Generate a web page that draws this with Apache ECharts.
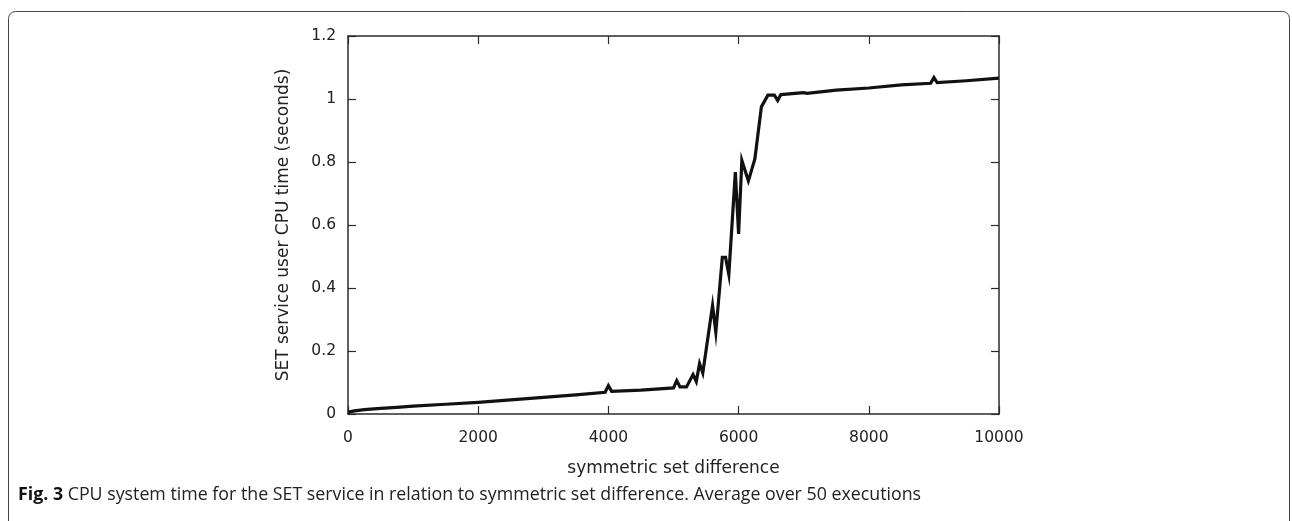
<!DOCTYPE html>
<html>
<head>
<meta charset="utf-8">
<script src="https://cdn.jsdelivr.net/npm/echarts@6/dist/echarts.min.js"></script>
<style>
  html, body { margin: 0; padding: 0; background: #fff; }
  #chart { width: 1292px; height: 521px; }
</style>
</head>
<body>
<div id="chart"></div>
<script>
// symmetric set difference
const setDiff = [0, 100, 250, 500, 750, 1000, 1500, 2000, 2500, 3000, 3500, 3950, 4000, 4050,
  4500, 5000, 5050, 5100, 5200, 5300, 5350, 5400, 5450, 5600, 5650, 5750, 5800, 5850, 5950,
  6000, 6050, 6150, 6250, 6350, 6450, 6550, 6600, 6650, 7000, 7050, 7500, 8000, 8500, 8950,
  9000, 9050, 9500, 10000]
// user CPU time (seconds)
const cpuTime = [0.006, 0.01, 0.014, 0.018, 0.021, 0.025, 0.031, 0.037, 0.045, 0.053, 0.061, 0.069, 0.09, 0.072,
  0.076, 0.083, 0.106, 0.086, 0.086, 0.125, 0.103, 0.16, 0.13, 0.345, 0.26, 0.497, 0.497, 0.443, 0.768,
  0.572, 0.805, 0.74, 0.81, 0.975, 1.012, 1.012, 0.995, 1.014, 1.02, 1.018, 1.028, 1.035, 1.045, 1.05,
  1.068, 1.052, 1.058, 1.066]
const xTicks = [0, 2000, 4000, 6000, 8000, 10000]
const yTicks = [0, 0.2, 0.4, 0.6, 0.8, 1, 1.2]

const axisFont = "'DejaVu Sans'"
const captionFont = "'Open Sans'"

const points = setDiff.map((x, i) => [x, cpuTime[i]])

function frameLine() {
  return { show: true, onZero: false, lineStyle: { color: '#2b2b2b', width: 1.5 } }
}
function frameTick() {
  return { show: true, inside: true, length: 8, lineStyle: { color: '#2b2b2b', width: 1.2 } }
}

const option = {
  animation: false,
  backgroundColor: '#fff',
  grid: { left: 348, top: 36, right: 293, bottom: 107, containLabel: false },
  xAxis: [{
    type: 'value', position: 'bottom',
    min: xTicks[0], max: xTicks[xTicks.length - 1], interval: 2000,
    name: 'symmetric set difference', nameLocation: 'middle', nameGap: 46,
    nameTextStyle: { fontFamily: axisFont, fontSize: 17, color: '#222' },
    axisLine: frameLine(),
    axisTick: frameTick(),
    axisLabel: { fontFamily: axisFont, fontSize: 15.5, color: '#222', margin: 16,
      formatter: v => String(v) },
    splitLine: { show: false }
  }, {
    type: 'value', position: 'top',
    min: xTicks[0], max: xTicks[xTicks.length - 1], interval: 2000,
    axisLine: frameLine(),
    axisTick: frameTick(),
    axisLabel: { show: false },
    splitLine: { show: false }
  }],
  yAxis: [{
    type: 'value', position: 'left',
    min: yTicks[0], max: yTicks[yTicks.length - 1], interval: 0.2,
    name: 'SET service user CPU time (seconds)', nameLocation: 'middle', nameGap: 56,
    nameTextStyle: { fontFamily: axisFont, fontSize: 17, color: '#222' },
    axisLine: frameLine(),
    axisTick: frameTick(),
    axisLabel: { fontFamily: axisFont, fontSize: 15.5, color: '#222', margin: 12,
      formatter: v => String(Math.round(v * 10) / 10) },
    splitLine: { show: false }
  }, {
    type: 'value', position: 'right',
    min: yTicks[0], max: yTicks[yTicks.length - 1], interval: 0.2,
    axisLine: frameLine(),
    axisTick: frameTick(),
    axisLabel: { show: false },
    splitLine: { show: false }
  }],
  series: [{
    type: 'line',
    data: points,
    xAxisIndex: 0, yAxisIndex: 0,
    symbol: 'none',
    lineStyle: { color: '#111', width: 3.2, join: 'miter' },
    z: 3
  }],
  graphic: [{
    type: 'rect',
    shape: { x: 8.5, y: 11.5, width: 1281, height: 600, r: 7 },
    style: { fill: 'none', stroke: '#444', lineWidth: 1 },
    silent: true
  }, {
    type: 'text',
    left: 18, top: 486,
    style: {
      text: '{b|Fig. 3} CPU system time for the SET service in relation to symmetric set difference. Average over 50 executions',
      fontFamily: captionFont, fontSize: 17.8, fill: '#222',
      rich: { b: { fontFamily: captionFont, fontSize: 17.8, fontWeight: 'bold', fill: '#111' } }
    }
  }]
}

const myChart = echarts.init(document.getElementById('chart'))
myChart.setOption(option)
</script>
</body>
</html>
